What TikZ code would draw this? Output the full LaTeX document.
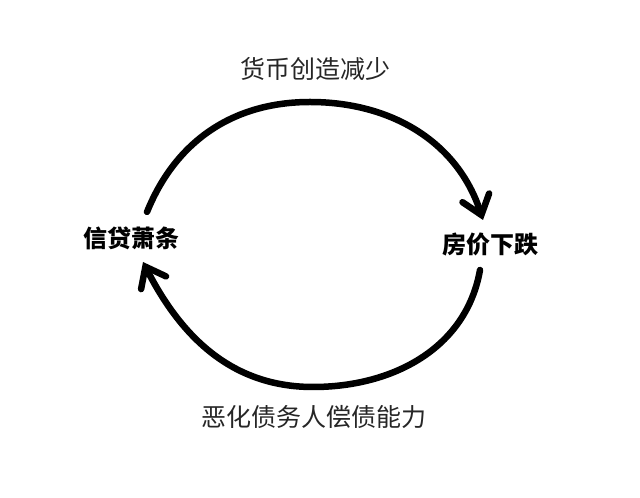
\documentclass[tikz,border=0pt]{standalone}
\usepackage{fontspec}
\setmainfont{Noto Sans CJK SC}
\usetikzlibrary{arrows.meta}
\begin{document}
\begin{tikzpicture}[x=1pt,y=1pt,
  lbl/.style={font=\fontsize{25}{25}\selectfont, inner sep=0pt, text=black!85},
  key/.style={font=\fontsize{24}{24}\selectfont\bfseries, inner sep=0pt},
  loopline/.style={line width=6.5pt, line cap=round,
    -{Straight Barb[length=18pt,width=28pt,line cap=round]}}]
\useasboundingbox[fill=white] (0,0) rectangle (640,498);
\node[key] (credit) at (131,260) {信贷萧条};
\node[key] (price) at (490,253) {房价下跌};
\node[lbl] (top) at (315,429) {货币创造减少};
\node[lbl] (bot) at (314,81) {恶化债务人偿债能力};
\draw[loopline] ([shift={(16,26)}]credit.center) to[out=68,in=180]
  ([shift={(-5,-33)}]top.center) to[out=0,in=108]
  ([shift={(-7,25)}]price.center);
\draw[loopline] ([shift={(-10,-25)}]price.center) to[out=-100,in=0]
  ([shift={(-1,30)}]bot.center) to[out=180,in=-63]
  ([shift={(12,-24)}]credit.center);
\end{tikzpicture}
\end{document}
